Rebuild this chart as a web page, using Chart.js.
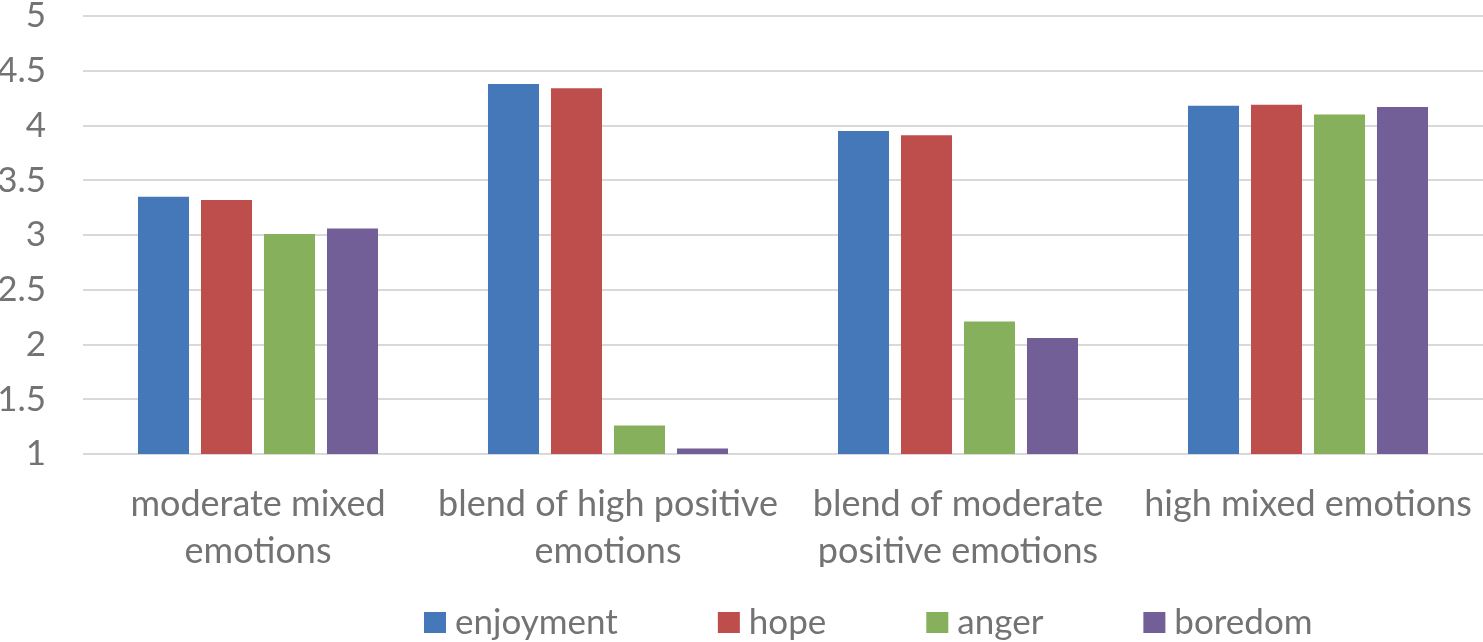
<!DOCTYPE html>
<html>
<head>
<meta charset="utf-8">
<script src="https://cdn.jsdelivr.net/npm/chart.js@4.4.1/dist/chart.umd.min.js"></script>
<style>
  html, body { margin: 0; padding: 0; background: #fff; }
  #wrap { width: 1483px; height: 642px; }
</style>
</head>
<body>
<div id="wrap"><canvas id="chart" width="1483" height="642"></canvas></div>
<script>
const categories = [
    ["moderate mixed", "emotions"],
    ["blend of high positive", "emotions"],
    ["blend of moderate", "positive emotions"],
    "high mixed emotions"
];
const seriesNames = ["enjoyment", "hope", "anger", "boredom"];
const enjoyment = [3.35, 4.38, 3.95, 4.18];
const hope = [3.32, 4.34, 3.91, 4.19];
const anger = [3.01, 1.26, 2.21, 4.10];
const boredom = [3.06, 1.05, 2.06, 4.17];
const colors = ["#4478B9", "#BD4E4B", "#87B05D", "#725F98"];

const textColor = "#737373";
const fontFamily = "Lato";

// Excel-style legend: wide gaps between items, drawn under the axis labels
const bottomLegend = {
    id: "bottomLegend",
    afterDraw(chart) {
        const { ctx } = chart;
        const items = chart.data.datasets;
        const box = 22, gap = 9, itemGap = 100;
        const y = 623;
        ctx.save();
        ctx.font = `35px ${fontFamily}`;
        ctx.textBaseline = "middle";
        ctx.textAlign = "left";
        let x = 424;
        items.forEach((ds) => {
            ctx.fillStyle = ds.backgroundColor;
            ctx.fillRect(x, y - 11, box, 21);
            ctx.fillStyle = textColor;
            ctx.fillText(ds.label, x + box + gap, y);
            x += box + gap + ctx.measureText(ds.label).width + itemGap;
        });
        ctx.restore();
    },
};

const ctx = document.getElementById("chart");

new Chart(ctx, {
    type: "bar",
    data: {
        labels: categories,
        datasets: [enjoyment, hope, anger, boredom].map((values, i) => ({
            label: seriesNames[i],
            data: values,
            backgroundColor: colors[i],
            borderWidth: 0,
            categoryPercentage: 0.72,
            barPercentage: 0.81,
        })),
    },
    options: {
        responsive: false,
        animation: false,
        layout: { autoPadding: false, padding: { top: 16, right: 0, left: 0, bottom: 75 } },
        scales: {
            x: {
                afterFit(scale) {
                    scale.height = 113;
                    scale.paddingLeft = 0;
                    scale.paddingRight = 0;
                },
                grid: { display: false, drawTicks: false },
                border: { display: false },
                ticks: {
                    color: textColor,
                    font: { family: fontFamily, size: 36, lineHeight: 1.3 },
                    padding: 27,
                    maxRotation: 0,
                    autoSkip: false,
                },
            },
            y: {
                min: 1,
                max: 5,
                afterFit(scale) {
                    scale.width = 83;
                    scale.paddingTop = 0;
                    scale.paddingBottom = 0;
                },
                grid: { color: "#D9D9D9", lineWidth: 2, drawTicks: false },
                border: { display: false },
                ticks: {
                    stepSize: 0.5,
                    autoSkip: false,
                    color: textColor,
                    font: { family: fontFamily, size: 35, lineHeight: 0.9 },
                    padding: 37,
                    callback: (v) => String(v),
                },
            },
        },
        plugins: {
            legend: { display: false },
            tooltip: { enabled: false },
        },
    },
    plugins: [bottomLegend],
});
</script>
</body>
</html>
